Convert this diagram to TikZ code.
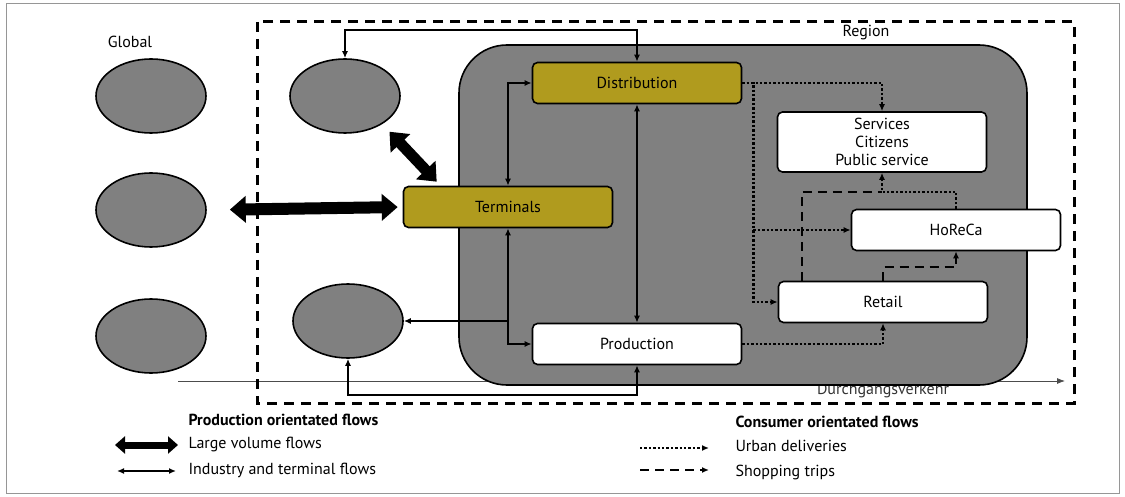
\documentclass[tikz,border=0pt]{standalone}
\usepackage{fontspec}
\setmainfont{PT Sans}
\usetikzlibrary{arrows.meta,shapes.geometric,calc}
\definecolor{zonegray}{RGB}{128,128,128}
\definecolor{hubolive}{RGB}{176,155,30}
\definecolor{framegray}{RGB}{150,150,150}
\newcommand{\labelfont}{\fontsize{16}{18}\selectfont}

\begin{document}
\begin{tikzpicture}[x=1pt,y=-1pt]
\tikzset{zone/.style={draw,ellipse,line width=1.6pt,fill=zonegray,minimum width=110pt,minimum height=74pt}}
\tikzset{hub/.style={draw,rectangle,rounded corners=5pt,line width=1.6pt,fill=hubolive,minimum width=209pt,minimum height=41pt,font=\labelfont}}
\tikzset{sink/.style={hub,fill=white}}

\tikzset{flow/.style={line width=1.4pt,{Latex[length=7pt,width=6pt]}-{Latex[length=7pt,width=6pt]}}}
\tikzset{bigflow/.style={line width=12pt,{Triangle[length=16pt,width=26pt]}-{Triangle[length=16pt,width=26pt]}}}
\tikzset{urban/.style={line width=2.4pt,dash pattern=on 2.4pt off 2pt,-{Latex[length=7pt,width=6pt]}}}
\tikzset{shop/.style={line width=2.2pt,dash pattern=on 9pt off 6pt}}
\tikzset{legend/.style={anchor=west,font=\labelfont}}

\useasboundingbox (0,0) rectangle (1125,497);
\draw[framegray, line width=1pt] (6,4) rectangle (1119,493);

%% Through traffic
\coordinate (transitA) at (178,381);
\coordinate (transitB) at (1065,381);
\draw[line width=0.8pt, black!70, -{Latex[length=8pt,width=6pt]}] (transitA) -- (transitB);
\node[anchor=base, font=\labelfont, black!80] (transit) at (883,394) {Durchgangsverkehr};

%% Region
\filldraw[fill=zonegray, line width=1.6pt, rounded corners=48pt] (459,45) rectangle (1027,385);
\draw[line width=3pt, dash pattern=on 10pt off 7pt] (257,22) rectangle (1074,403);
\node[font=\labelfont] (region) at (866,33) {Region};
\node[font=\labelfont] (global) at (130,42) {Global};

%% Zones
\begin{scope}
    \node[zone] at (151,96) (g1) {};
    \node[zone] at (151,210) (g2) {};
    \node[zone] at (151,336) (g3) {};
    \node[zone] at (345,96) (r1) {};
    \node[zone] at (348,321) (r3) {};
\end{scope}

%% Actors
\begin{scope}
    \node[hub] at (637,83) (dist) {Distribution};
    \node[hub] at (508,207) (term) {Terminals};
    \node[sink] at (637,344) (prod) {Production};
    \node[sink, minimum height=60pt, align=center] at (882,142) (serv) {Services\\Citizens\\Public service};
    \node[sink] at (956,230) (horeca) {HoReCa};
    \node[sink] at (883,302) (retail) {Retail};
\end{scope}

%% Production orientated flows
  \draw[bigflow, shorten <=23pt, shorten >=5pt] (g2.east) -- (term.west);
  \draw[bigflow, line width=11pt] ($(r1.south east)+(5,9)$) -- ($(term.north west)+(34,-4)$);
  \draw[flow] (r1.north) |- (dist.north |- 0,30) -- (dist.north);
  \draw[flow] (dist.west) -| (term.north);
  \draw[flow] (dist.south) -- (prod.north);
  \draw[flow] (term.south) |- (prod.west);
  \draw[flow, {Latex[length=7pt,width=6pt]}-] (r3.east) -- (term.south |- r3.east);
  \draw[flow] (prod.south) -- (prod.south |- 0,395) -| (r3.south);

%% Consumer orientated flows
\coordinate (dsplit) at ($(dist.east)+(11,0)$);
  \draw[urban] (dist.east) -| (serv.north);
  \draw[urban] (dist.east) -- (dsplit) |- (retail.west);
  \draw[urban] (dsplit |- horeca.west) -- (horeca.west);
  \draw[urban] (prod.east) -| (retail.south);
  \draw[shop] ($(retail.north west)+(24,0)$) |- ($(serv.south)+(0,19)$);
  \draw[urban] (horeca.north) |- ($(serv.south)+(0,19)$) -- (serv.south);
  \draw[shop, -{Latex[length=7pt,width=6pt]}] (retail.north) |- ($(horeca.south)+(0,16)$) -- (horeca.south);

%% Legend
\node[legend, font=\labelfont\bfseries] at (185,420) (prodkey) {Production orientated flows};
\node[legend] at (185,444) (bigkey) {Large volume flows};
\node[legend] at (185,470) (flowkey) {Industry and terminal flows};
\coordinate (bigA) at (115,445);
\coordinate (bigB) at (178,445);
\coordinate (flowA) at (117,471);
\coordinate (flowB) at (176,471);
  \draw[line width=7pt, {Triangle[length=10pt,width=17pt]}-{Triangle[length=10pt,width=17pt]}] (bigA) -- (bigB);
  \draw[flow] (flowA) -- (flowB);

\node[legend, font=\labelfont\bfseries] at (732,422) (conskey) {Consumer orientated flows};
\node[legend] at (732,446) (urbankey) {Urban deliveries};
\node[legend] at (732,472) (shopkey) {Shopping trips};
\coordinate (urbanA) at (640,448);
\coordinate (urbanB) at (709,448);
\coordinate (shopA) at (640,470);
\coordinate (shopB) at (709,470);
  \draw[urban] (urbanA) -- (urbanB);
  \draw[shop, -{Latex[length=7pt,width=6pt]}] (shopA) -- (shopB);

\end{tikzpicture}
\end{document}
